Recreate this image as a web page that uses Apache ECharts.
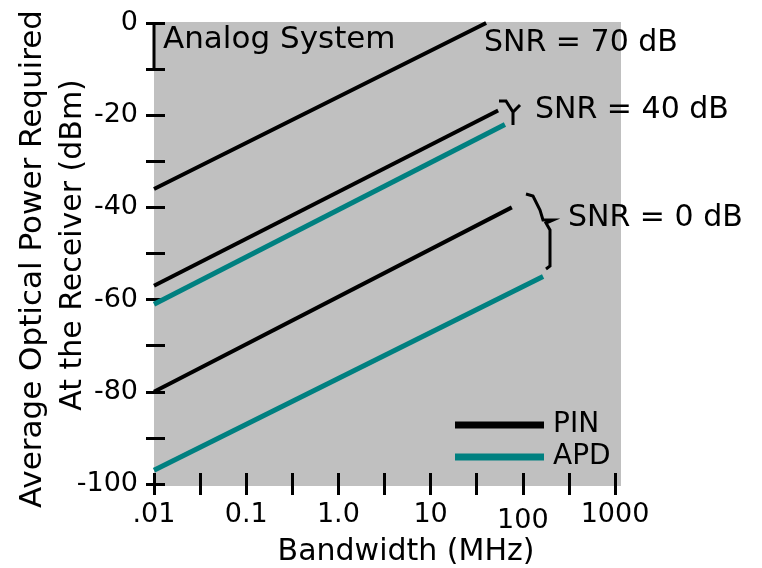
<!DOCTYPE html>
<html>
<head>
<meta charset="utf-8">
<script src="https://cdn.jsdelivr.net/npm/echarts@6/dist/echarts.min.js"></script>
<style>
  html, body { margin: 0; padding: 0; background: #fff; }
  #chart { width: 762px; height: 568px; }
</style>
</head>
<body>
<div id="chart"></div>
<script>
// bandwidth (MHz) vs required power (dBm)
const pin70 = [[0.01, -36], [40, 0]];
const pin40 = [[0.01, -57], [54, -19]];
const apd40 = [[0.01, -61], [64, -22]];
const pin0 = [[0.01, -80], [76, -40]];
const apd0 = [[0.01, -97], [166, -55]];
// the little 10 dB bar next to "Analog System"
const scaleBar = [[0.01, 0], [0.01, -10]];
const tickLabels = ['.01', '0.1', '1.0', '10', '100', '1000'];
const snrLabels = ['SNR = 70 dB', 'SNR = 40 dB', 'SNR = 0 dB'];

const font = 'DejaVu Sans';
const teal = '#008080';

const chartDom = document.getElementById('chart');
const myChart = echarts.init(chartDom);

function lineSeries(name, data, color, w) {
  return {
    type: 'line',
    name: name,
    data: data,
    xAxisIndex: 0,
    showSymbol: false,
    symbol: 'none',
    clip: false,
    silent: true,
    lineStyle: { color: color, width: w },
    itemStyle: { color: color }
  };
}

const seriesList = [
  lineSeries('PIN', pin70, '#000', 4),
  lineSeries('APD', apd40, teal, 5),
  lineSeries('PIN', pin40, '#000', 4),
  lineSeries('APD', apd0, teal, 5),
  lineSeries('PIN', pin0, '#000', 4),
  {
    type: 'line',
    name: 'bar',
    data: scaleBar,
    symbol: 'none',
    clip: false,
    silent: true,
    lineStyle: { color: '#000', width: 3 }
  }
];

const option = {
  animation: false,
  grid: { left: 154, right: 147, top: 23, bottom: 84 },
  legend: {
    data: ['PIN', 'APD'],
    orient: 'vertical',
    left: 450,
    top: 406,
    icon: 'rect',
    itemWidth: 89,
    itemHeight: 7,
    itemGap: 4,
    selectedMode: false,
    textStyle: { fontFamily: font, fontSize: 28, color: '#000', padding: [0, 0, 0, 4], lineHeight: 26 }
  },
  xAxis: [
    { type: 'log', logBase: 10, min: 0.01, max: 1000, show: false, axisLine: { onZero: false } },
    {
      type: 'value',
      position: 'bottom',
      min: -2,
      max: 3,
      interval: 0.5,
      offset: 11,
      axisLine: { show: false, onZero: false },
      splitLine: { show: false },
      axisTick: { inside: true, length: 22, lineStyle: { color: '#000', width: 3 } },
      axisLabel: {
        margin: 6,
        color: '#000',
        fontFamily: font,
        fontSize: 27,
        formatter: function (v) {
          if (!Number.isInteger(v)) return '';
          const t = tickLabels[v + 2];
          return t === '100' ? '{low|' + t + '}' : t;
        },
        rich: { low: { fontFamily: font, fontSize: 27, color: '#000', padding: [6, 0, 0, 0] } }
      }
    }
  ],
  yAxis: {
    type: 'value',
    position: 'left',
    min: -100,
    max: 0,
    interval: 10,
    offset: 8,
    axisLine: { show: false, onZero: false },
    splitLine: { show: false },
    axisTick: { inside: true, length: 19, lineStyle: { color: '#000', width: 3 } },
    axisLabel: {
      margin: 8,
      color: '#000',
      fontFamily: font,
      fontSize: 27,
      formatter: function (v) { return v % 20 === 0 ? String(v) : ''; }
    }
  },
  graphic: [
    { type: 'rect', z: -10, shape: { x: 154, y: 22, width: 467, height: 464 }, style: { fill: '#c0c0c0' } },
    { type: 'text', x: 163, y: 40, style: { text: 'Analog System', font: '31px "DejaVu Sans"', fill: '#000', verticalAlign: 'middle' } },
    { type: 'text', x: 484, y: 43, style: { text: snrLabels[0], font: '30px "DejaVu Sans"', fill: '#000', verticalAlign: 'middle' } },
    { type: 'text', x: 535, y: 110, style: { text: snrLabels[1], font: '30px "DejaVu Sans"', fill: '#000', verticalAlign: 'middle' } },
    { type: 'text', x: 568, y: 218, style: { text: snrLabels[2], font: '30px "DejaVu Sans"', fill: '#000', verticalAlign: 'middle' } },
    {
      type: 'polyline',
      shape: { points: [[499, 101], [506, 101], [513, 112], [520, 105], [513, 112], [513, 125]] },
      style: { stroke: '#000', lineWidth: 3, fill: null }
    },
    {
      type: 'polyline',
      shape: { points: [[526, 194], [533, 196], [540, 210], [543, 220], [553, 220], [546, 223], [550, 230], [550, 266], [546, 269]] },
      style: { stroke: '#000', lineWidth: 3, fill: null }
    },
    { type: 'text', x: 406, y: 552, style: { text: 'Bandwidth (MHz)', font: '30px "DejaVu Sans"', fill: '#000', align: 'center', verticalAlign: 'middle' } },
    { type: 'text', x: 33, y: 259, rotation: Math.PI / 2, style: { text: 'Average Optical Power Required', font: '31px "DejaVu Sans"', fill: '#000', align: 'center', verticalAlign: 'middle' } },
    { type: 'text', x: 73, y: 245, rotation: Math.PI / 2, style: { text: 'At the Receiver (dBm)', font: '30px "DejaVu Sans"', fill: '#000', align: 'center', verticalAlign: 'middle' } }
  ],
  series: seriesList
};
myChart.setOption(option);
</script>
</body>
</html>
